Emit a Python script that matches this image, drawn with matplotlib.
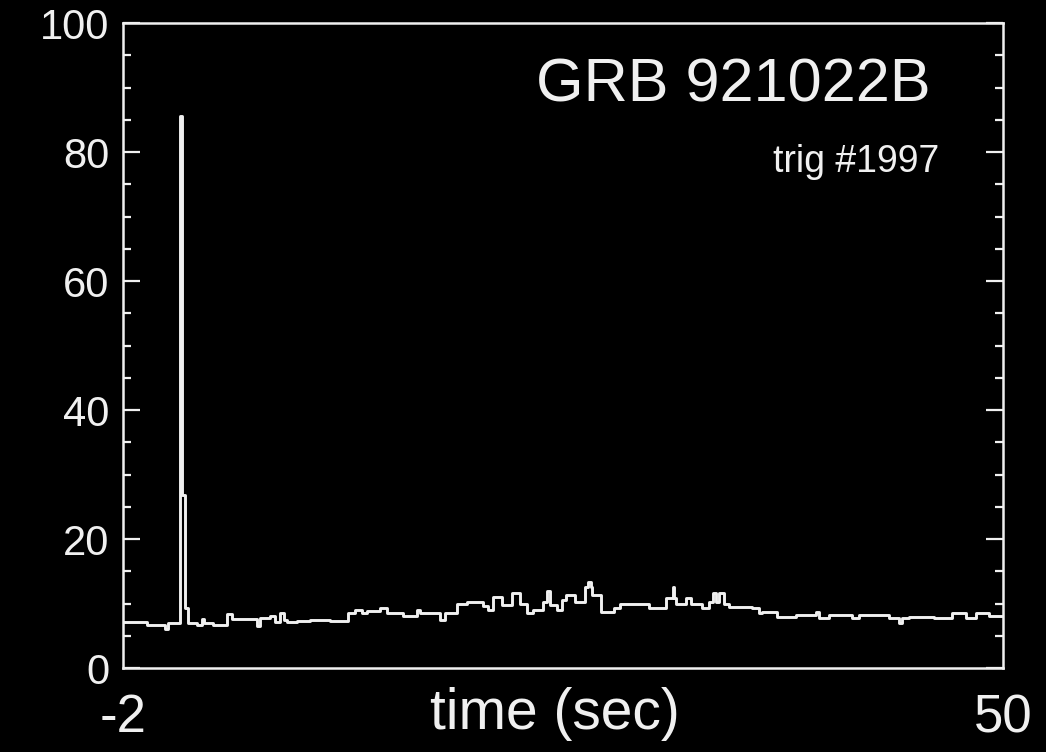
import numpy as np
import matplotlib.pyplot as plt
from matplotlib.ticker import MultipleLocator

# step start times (sec) and count rate
t_start = [-2.00, -0.58, 0.48, 0.66, 1.36, 1.51, 1.66, 1.84, 2.37, 2.66,
           2.78, 3.31, 4.14, 4.43, 5.91, 6.09, 6.68, 6.97, 7.27, 7.50,
           7.68, 8.27, 9.04, 10.22, 11.28, 11.70, 12.11, 12.40, 13.17, 13.58,
           14.53, 15.35, 15.53, 16.71, 17.01, 17.72, 18.31, 19.25, 19.55, 19.84,
           20.37, 20.96, 21.44, 21.85, 22.20, 22.79, 23.03, 23.21, 23.62, 23.92,
           24.15, 24.68, 25.27, 25.45, 25.63, 25.74, 26.22, 27.04, 27.34, 29.11,
           30.11, 30.47, 30.58, 30.70, 31.29, 31.59, 32.24, 32.65, 32.89, 33.06,
           33.24, 33.54, 33.83, 35.19, 35.60, 35.78, 36.67, 37.79, 38.97, 39.14,
           39.73, 41.09, 41.51, 43.28, 43.87, 44.04, 44.46, 45.93, 47.00, 47.82,
           48.41, 49.18]
rate = [7.1, 6.6, 6.0, 7.0, 85.6, 26.8, 9.3, 7.0, 6.7, 7.6,
        7.0, 6.7, 8.4, 7.6, 6.5, 7.8, 8.0, 7.2, 8.5, 7.4,
        7.2, 7.3, 7.5, 7.3, 8.6, 9.0, 8.5, 8.8, 9.3, 8.5,
        8.1, 9.0, 8.5, 7.4, 8.5, 10.0, 10.2, 9.6, 9.0, 11.0,
        9.8, 11.6, 10.0, 8.5, 9.0, 10.2, 12.0, 9.8, 9.0, 10.5,
        11.3, 10.2, 12.6, 13.3, 12.6, 11.3, 8.7, 9.3, 10.0, 9.3,
        10.9, 12.6, 10.9, 10.0, 10.8, 10.0, 9.3, 10.2, 11.6, 10.2,
        11.6, 10.0, 9.5, 9.3, 8.5, 8.7, 7.9, 8.2, 8.7, 7.7,
        8.2, 7.7, 8.2, 7.7, 7.0, 7.7, 7.9, 7.7, 8.5, 7.7,
        8.5, 8.1]
t_end = 50.0

x_ticks = [-2, 50]
y_major = [0, 20, 40, 60, 80, 100]
burst_name = "GRB 921022B"
trigger = "trig #1997"

plt.rcParams['font.family'] = ['Liberation Sans', 'DejaVu Sans']
fg = "#f0f0f0"
fig = plt.figure(figsize=(10.46, 7.52), dpi=100, facecolor="black")
ax = fig.add_axes([0.1176, 0.1117, 0.8413, 0.8577], facecolor="black")

ax.step(t_start + [t_end], rate + [rate[-1]], where="post", color=fg, lw=2.1)

ax.set_xlim(-2, 50)
ax.set_ylim(0, 100)
ax.set_yticks(y_major)
ax.yaxis.set_minor_locator(MultipleLocator(5))
ax.set_xticks(x_ticks)
ax.set_xticklabels([str(v) for v in x_ticks])

ax.tick_params(axis="y", which="both", direction="in", left=True, right=True,
               colors=fg, labelsize=30, pad=10, width=1.6)
ax.tick_params(axis="y", which="major", length=12)
ax.tick_params(axis="y", which="minor", length=6)
ax.tick_params(axis="x", length=0, colors=fg, labelsize=38, pad=18)
for sp in ax.spines.values():
    sp.set_color(fg)
    sp.set_linewidth(1.8)

fig.text(555 / 1046, 1 - 714 / 752, "time (sec)", color=fg, fontsize=41,
         ha="center", va="center")
ax.text(0.693, 0.903, burst_name, transform=ax.transAxes, color=fg,
        fontsize=44, ha="center", va="center")
ax.text(0.928, 0.785, trigger, transform=ax.transAxes, color=fg,
        fontsize=27, ha="right", va="center")

fig.savefig("out.png", dpi=100, facecolor="black")
